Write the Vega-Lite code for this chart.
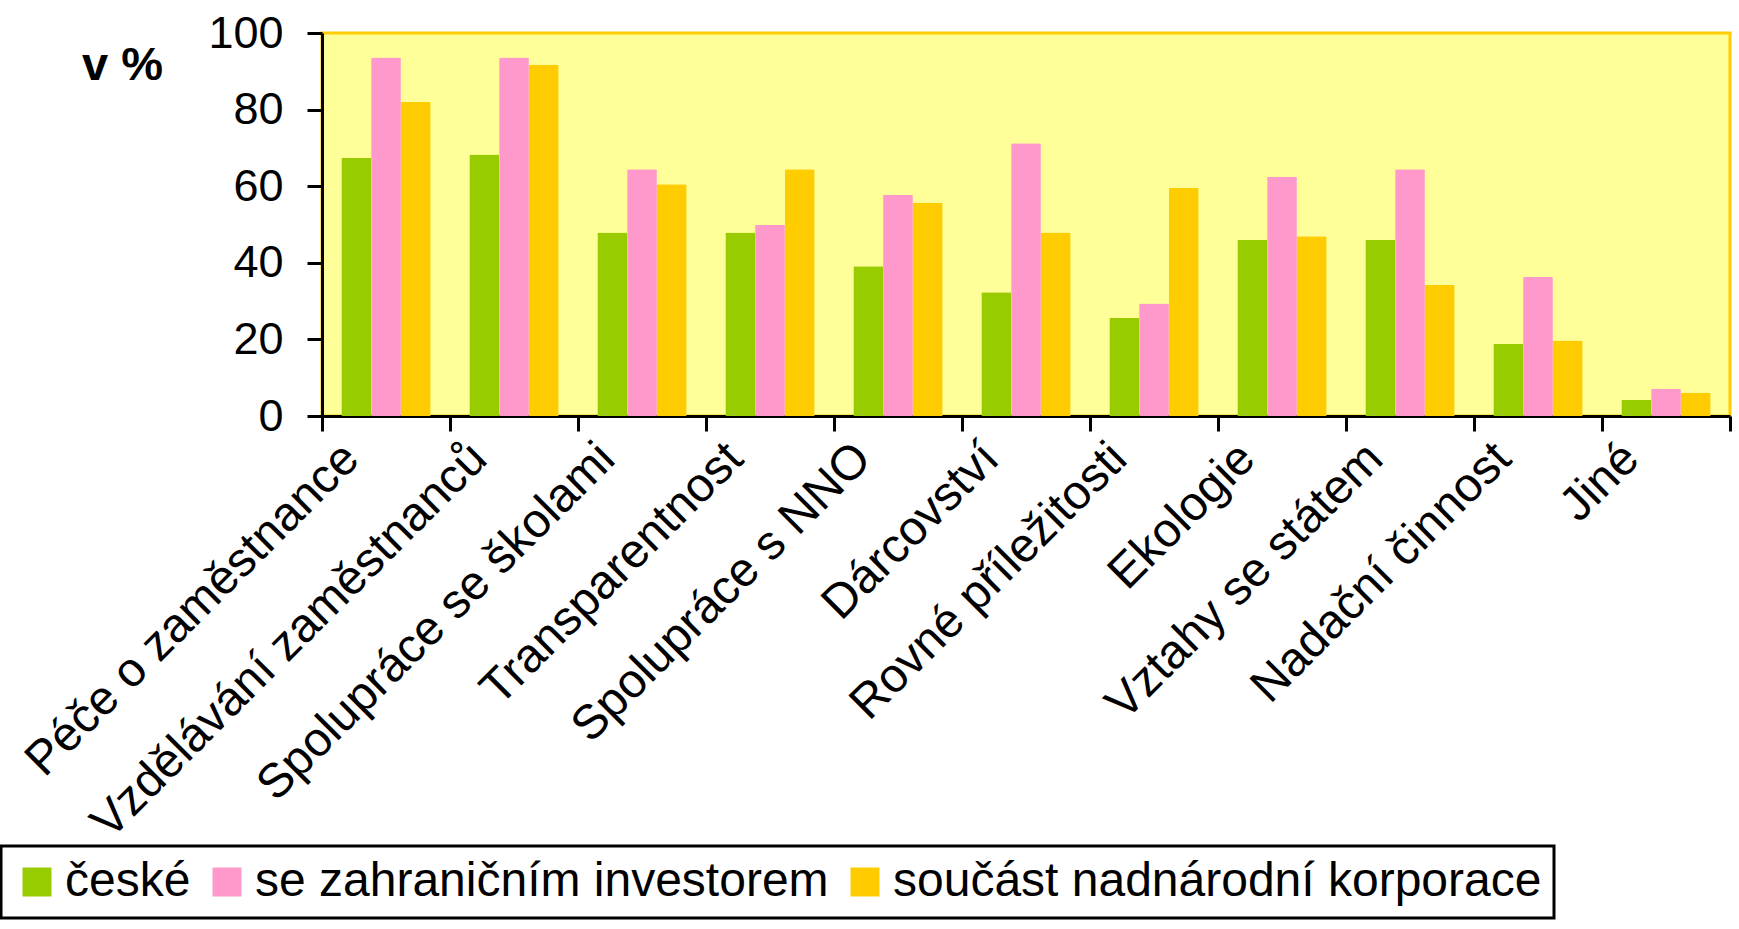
{
  "$schema": "https://vega.github.io/schema/vega-lite/v6.json",
  "autosize": {"type": "none"},
  "padding": {"left": 322, "top": 33, "right": 9, "bottom": 513},
  "width": 1408,
  "height": 383,
  "background": "white",
  "config": {
    "font": "Liberation Sans",
    "view": {"fill": "#FFFF99", "stroke": "#FFCC00", "strokeWidth": 3}
  },
  "data": {
    "values": [
      {"cat": "Péče o zaměstnance", "typ": "české", "v": 67.4},
      {"cat": "Péče o zaměstnance", "typ": "se zahraničním investorem", "v": 93.6},
      {"cat": "Péče o zaměstnance", "typ": "součást nadnárodní korporace", "v": 82.0},
      {"cat": "Vzdělávání zaměstnanců", "typ": "české", "v": 68.3},
      {"cat": "Vzdělávání zaměstnanců", "typ": "se zahraničním investorem", "v": 93.6},
      {"cat": "Vzdělávání zaměstnanců", "typ": "součást nadnárodní korporace", "v": 91.7},
      {"cat": "Spolupráce se školami", "typ": "české", "v": 47.9},
      {"cat": "Spolupráce se školami", "typ": "se zahraničním investorem", "v": 64.4},
      {"cat": "Spolupráce se školami", "typ": "součást nadnárodní korporace", "v": 60.5},
      {"cat": "Transparentnost", "typ": "české", "v": 47.9},
      {"cat": "Transparentnost", "typ": "se zahraničním investorem", "v": 49.9},
      {"cat": "Transparentnost", "typ": "součást nadnárodní korporace", "v": 64.4},
      {"cat": "Spolupráce s NNO", "typ": "české", "v": 39.1},
      {"cat": "Spolupráce s NNO", "typ": "se zahraničním investorem", "v": 57.7},
      {"cat": "Spolupráce s NNO", "typ": "součást nadnárodní korporace", "v": 55.7},
      {"cat": "Dárcovství", "typ": "české", "v": 32.3},
      {"cat": "Dárcovství", "typ": "se zahraničním investorem", "v": 71.2},
      {"cat": "Dárcovství", "typ": "součást nadnárodní korporace", "v": 47.9},
      {"cat": "Rovné příležitosti", "typ": "české", "v": 25.6},
      {"cat": "Rovné příležitosti", "typ": "se zahraničním investorem", "v": 29.4},
      {"cat": "Rovné příležitosti", "typ": "součást nadnárodní korporace", "v": 59.6},
      {"cat": "Ekologie", "typ": "české", "v": 46.0},
      {"cat": "Ekologie", "typ": "se zahraničním investorem", "v": 62.5},
      {"cat": "Ekologie", "typ": "součást nadnárodní korporace", "v": 46.9},
      {"cat": "Vztahy se státem", "typ": "české", "v": 46.0},
      {"cat": "Vztahy se státem", "typ": "se zahraničním investorem", "v": 64.4},
      {"cat": "Vztahy se státem", "typ": "součást nadnárodní korporace", "v": 34.3},
      {"cat": "Nadační činnost", "typ": "české", "v": 18.8},
      {"cat": "Nadační činnost", "typ": "se zahraničním investorem", "v": 36.3},
      {"cat": "Nadační činnost", "typ": "součást nadnárodní korporace", "v": 19.7},
      {"cat": "Jiné", "typ": "české", "v": 4.2},
      {"cat": "Jiné", "typ": "se zahraničním investorem", "v": 7.1},
      {"cat": "Jiné", "typ": "součást nadnárodní korporace", "v": 6.1}
    ]
  },
  "mark": {"type": "bar", "cornerRadiusTopLeft": 1, "cornerRadiusTopRight": 1},
  "encoding": {
    "x": {
      "field": "cat",
      "type": "nominal",
      "sort": null,
      "scale": {"paddingInner": 0, "paddingOuter": 0},
      "axis": {
        "title": null,
        "labelAngle": -45,
        "labelFontSize": 48,
        "labelColor": "black",
        "labelOffset": -52,
        "labelPadding": 3,
        "labelLimit": 1000,
        "domainColor": "black",
        "domainWidth": 3,
        "tickColor": "black",
        "tickWidth": 3,
        "tickSize": 15,
        "tickBand": "extent"
      }
    },
    "xOffset": {
      "field": "typ",
      "type": "nominal",
      "sort": ["české", "se zahraničním investorem", "součást nadnárodní korporace"],
      "scale": {"paddingInner": 0, "paddingOuter": 0.65}
    },
    "y": {
      "field": "v",
      "type": "quantitative",
      "scale": {"domain": [0, 100], "nice": false},
      "axis": {
        "title": "v %",
        "titleAngle": 0,
        "titleFontSize": 47,
        "titleFontWeight": "bold",
        "titleColor": "black",
        "titleAlign": "center",
        "titleBaseline": "middle",
        "titleX": -200,
        "titleY": 32,
        "values": [0, 20, 40, 60, 80, 100],
        "grid": false,
        "labelFontSize": 45,
        "labelColor": "black",
        "labelPadding": 24,
        "domainColor": "black",
        "domainWidth": 3,
        "tickColor": "black",
        "tickWidth": 3,
        "tickSize": 15
      }
    },
    "color": {
      "field": "typ",
      "type": "nominal",
      "sort": ["české", "se zahraničním investorem", "součást nadnárodní korporace"],
      "scale": {
        "domain": ["české", "se zahraničním investorem", "součást nadnárodní korporace"],
        "range": ["#99CC00", "#FF99CC", "#FFCC00"]
      },
      "legend": {
        "title": null,
        "orient": "none",
        "direction": "horizontal",
        "legendX": -321,
        "legendY": 813,
        "symbolType": "square",
        "symbolSize": 841,
        "symbolStrokeWidth": 0,
        "labelFontSize": 48,
        "labelColor": "black",
        "labelOffset": 4,
        "labelLimit": 1000,
        "columnPadding": 12,
        "padding": 12,
        "strokeColor": "black",
        "fillColor": "white",
        "encode": {"legend": {"update": {"strokeWidth": {"value": 3}}}}
      }
    }
  }
}
